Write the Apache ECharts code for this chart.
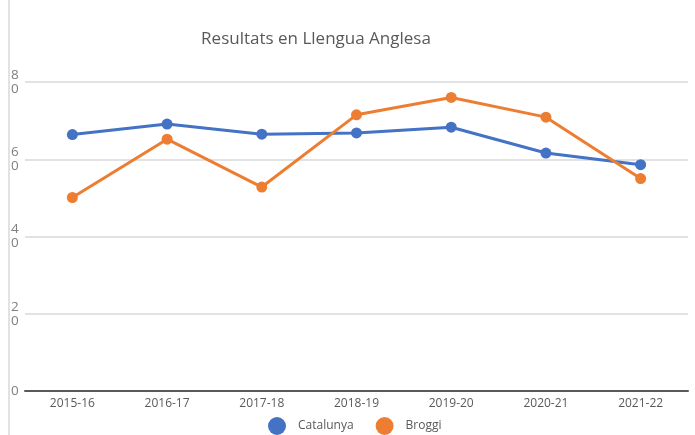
<!DOCTYPE html>
<html>
<head>
<meta charset="utf-8">
<script src="https://cdn.jsdelivr.net/npm/echarts@6/dist/echarts.min.js"></script>
<style>html,body{margin:0;padding:0;background:#fff;}#c{width:695px;height:435px;}</style>
</head>
<body>
<div id="c"></div>
<script>
const categories = ['2015-16','2016-17','2017-18','2018-19','2019-20','2020-21','2021-22'];
const catalunya = [66.4, 69.1, 66.5, 66.8, 68.3, 61.6, 58.6];
const broggi = [50.1, 65.2, 52.8, 71.5, 76.0, 70.9, 55.0];
const yTicks = [0, 20, 40, 60, 80];

const chart = echarts.init(document.getElementById('c'));
const font = 'Open Sans, Noto Sans, sans-serif';
chart.setOption({
  animation: false,
  backgroundColor: '#fff',
  title: {
    text: 'Resultats en Llengua Anglesa',
    left: 311, top: 26, textAlign: 'center',
    textStyle: { fontFamily: font, fontSize: 17, fontWeight: 'normal', color: '#595959' }
  },
  legend: {
    data: ['Catalunya', 'Broggi'],
    left: 263, top: 412,
    icon: 'circle', itemWidth: 18, itemHeight: 18, itemGap: 22,
    textStyle: { fontFamily: font, fontSize: 12, color: '#595959', padding: [0, 0, 0, 7] }
  },
  grid: { left: 25, right: 7, top: 82, bottom: 44 },
  xAxis: {
    type: 'category', data: categories, boundaryGap: true,
    axisLine: { lineStyle: { color: '#595959', width: 2 } },
    axisTick: { show: false },
    axisLabel: { fontFamily: font, fontSize: 12, color: '#595959', margin: 7 }
  },
  yAxis: {
    type: 'value', min: 0, max: 80, interval: 20,
    axisLine: { show: false }, axisTick: { show: false },
    splitLine: { lineStyle: { color: '#d9d9d9', width: 1.5 } },
    axisLabel: {
      fontFamily: font, fontSize: 13.5, color: '#7f7f7f', align: 'left', margin: 14, lineHeight: 14,
      formatter: v => yTicks.includes(v) ? String(v).split('').join('\n') : ''
    }
  },
  graphic: [{
    type: 'line', shape: { x1: 9, y1: 0, x2: 9, y2: 435 },
    style: { stroke: '#d9d9d9', lineWidth: 1.5 }
  }],
  series: [
    { name: 'Catalunya', type: 'line', data: catalunya, symbol: 'circle', symbolSize: 11,
      itemStyle: { color: '#4472C4' }, lineStyle: { width: 3, color: '#4472C4' } },
    { name: 'Broggi', type: 'line', data: broggi, symbol: 'circle', symbolSize: 11,
      itemStyle: { color: '#ED7D31' }, lineStyle: { width: 3, color: '#ED7D31' } }
  ]
});
</script>
</body>
</html>
